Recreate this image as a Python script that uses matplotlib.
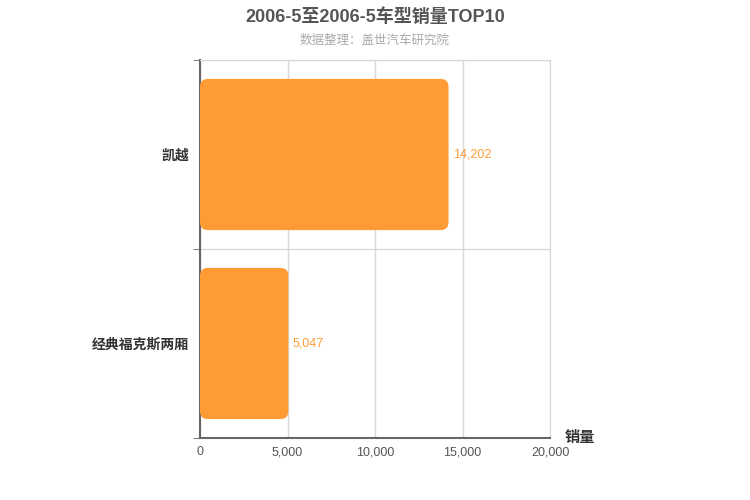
import matplotlib.pyplot as plt
from matplotlib.patches import FancyBboxPatch

plt.rcParams['font.family'] = ['Liberation Sans', 'Noto Sans CJK SC', 'DejaVu Sans']

# 数据
models = ['凯越', '经典福克斯两厢']
sales = [14202, 5047]
xticks = [0, 5000, 10000, 15000, 20000]

fig = plt.figure(figsize=(7.5, 5), dpi=100)
ax = fig.add_axes([200 / 750, 62 / 500, 350 / 750, 378 / 500])

ypos = list(range(len(models)))[::-1]  # 第一名在上
bars = ax.barh(ypos, sales, height=0.8, color='none')
ax.set_xlim(0, 20000)
ax.set_ylim(-0.5, len(models) - 0.5)

# 圆角柱子
fig.canvas.draw()
p0 = ax.transData.transform((0, 0))
p1 = ax.transData.transform((1, 1))
aspect = (p1[0] - p0[0]) / (p1[1] - p0[1])
for b in bars:
    box = FancyBboxPatch((b.get_x(), b.get_y()), b.get_width(), b.get_height(),
                         boxstyle='round,pad=0,rounding_size=450',
                         mutation_aspect=aspect, fc='#ff9b35', ec='none', zorder=3)
    ax.add_patch(box)
    ax.text(b.get_width() + 250, b.get_y() + b.get_height() / 2, f'{b.get_width():,.0f}',
            va='center', ha='left', color='#ff9b35', fontsize=9, zorder=4)

ax.set_xticks(xticks)
ax.set_xticklabels([f'{v:,}' for v in xticks], fontsize=9, color='#555555')
ax.set_yticks(ypos)
ax.set_yticklabels(models, fontsize=10, fontweight='bold', color='#333333')
ax.set_yticks([-0.5, 0.5, 1.5], minor=True)
ax.tick_params(axis='y', which='major', length=0, pad=8)
ax.tick_params(axis='y', which='minor', length=5, color='#666666')
ax.tick_params(axis='x', length=0, pad=6)

ax.grid(axis='x', color='#d8d8d8', lw=1, zorder=0)
ax.grid(axis='y', which='minor', color='#d8d8d8', lw=1, zorder=0)
for s in ['top', 'right']:
    ax.spines[s].set_color('#d8d8d8')
for s in ['left', 'bottom']:
    ax.spines[s].set_color('#666666')
    ax.spines[s].set_linewidth(1.5)

fig.text(0.5, 0.965, '2006-5至2006-5车型销量TOP10', ha='center', va='center',
         fontsize=13, fontweight='bold', color='#555555')
fig.text(0.5, 0.918, '数据整理：盖世汽车研究院', ha='center', va='center',
         fontsize=9, color='#aaaaaa')
fig.text(565 / 750, 1 - 438 / 500, '销量', ha='left', va='center',
         fontsize=11, fontweight='bold', color='#333333')

fig.savefig('out.png', dpi=100)
